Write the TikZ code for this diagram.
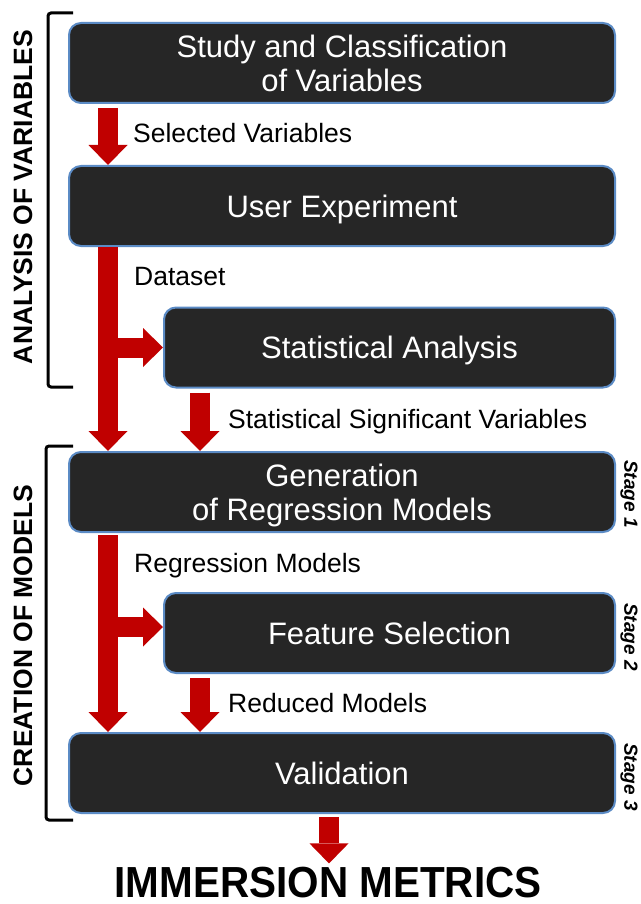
\documentclass[tikz,border=0pt]{standalone}
\usepackage{fontspec}
\usepackage{graphicx}
\setmainfont{Liberation Sans}
\usetikzlibrary{arrows.meta}
\definecolor{boxfill}{HTML}{262626}
\definecolor{boxline}{HTML}{5B8BC5}
\definecolor{arrred}{HTML}{C00000}
\begin{document}
\begin{tikzpicture}[x=1pt,y=-1pt,
  procbox/.style={draw=boxline, line width=2pt, fill=boxfill, rounded corners=12pt,
    text=white, font=\fontsize{31}{34}\selectfont, align=center, inner sep=0pt,
    minimum height=80pt, text depth=0pt},
  widebox/.style={procbox, minimum width=546pt},
  narrowbox/.style={procbox, minimum width=451pt},
  flow/.style={draw=arrred, line width=20pt, line cap=butt,
    -{Triangle[width=39pt,length=20pt,line width=0pt]}},
  lbl/.style={font=\fontsize{26.5}{30}\selectfont, anchor=base west, inner sep=0pt},
  sidelbl/.style={font=\bfseries\fontsize{26.5}{30}\selectfont, rotate=90, inner sep=0pt},
  stagelbl/.style={font=\bfseries\itshape\fontsize{19}{22}\selectfont, rotate=-90, inner sep=0pt},
  bracket/.style={draw=black, line width=3pt, rounded corners=3pt}
]
\useasboundingbox (0,0) rectangle (640,904);

% boxes
\node[widebox]   (b1) at (342,63)    {Study and Classification\\of Variables};
\node[widebox]   (b2) at (342,206)   {User Experiment};
\node[narrowbox] (b3) at (389.5,347.5) {Statistical Analysis};
\node[widebox]   (b4) at (342,492)   {Generation\\of Regression Models};
\node[narrowbox] (b5) at (389.5,633) {Feature Selection};
\node[widebox]   (b6) at (342,773)   {Validation};

\node[font=\bfseries\fontsize{43.5}{48}\selectfont, anchor=base, inner sep=0pt] (im) at (328,897)
  {\scalebox{0.93}[1]{IMMERSION METRICS}};

% arrow columns
\coordinate (ax) at (108,0);
\coordinate (bx) at (200,0);
\coordinate (cx) at (329,0);
\coordinate (b5in) at ([yshift=6pt]b5.west);

\draw[flow, shorten <=4pt] (b1.south -| ax) -- (b2.north -| ax);
\draw[flow] (b2.south -| ax) -- (b4.north -| ax);
\draw[flow] (ax |- b3.west) -- (b3.west);
\draw[flow, shorten <=4pt] (b3.south -| bx) -- (b4.north -| bx);

\draw[flow, shorten <=2pt] (b4.south -| ax) -- (b6.north -| ax);
\draw[flow] (ax |- b5in) -- (b5in);
\draw[flow, shorten <=4pt] (b5.south -| bx) -- (b6.north -| bx);

\draw[flow, shorten <=3pt, shorten >=3pt] (b6.south -| cx) -- (im.north -| cx);

% labels
\node[lbl] (l1) at (133,143) {Selected Variables};
\node[lbl] (l2) at (134,285) {Dataset};
\node[lbl] (l3) at (228,428) {Statistical Significant Variables};
\node[lbl] (l4) at (134,572) {Regression Models};
\node[lbl] (l5) at (228,712) {Reduced Models};

% brackets and side labels
\draw[bracket] (73,13) -- (48,13) -- (48,387) -- (73,387);
\draw[bracket] (73,446) -- (46,446) -- (46,820) -- (73,820);
\node[sidelbl] (s1) at (23,197) {ANALYSIS OF VARIABLES};
\node[sidelbl] (s2) at (23,635.5) {CREATION OF MODELS};

% stages
\node[stagelbl] (st1) at (629,494) {Stage 1};
\node[stagelbl] (st2) at (629,637) {Stage 2};
\node[stagelbl] (st3) at (629,777) {Stage 3};
\end{tikzpicture}
\end{document}
